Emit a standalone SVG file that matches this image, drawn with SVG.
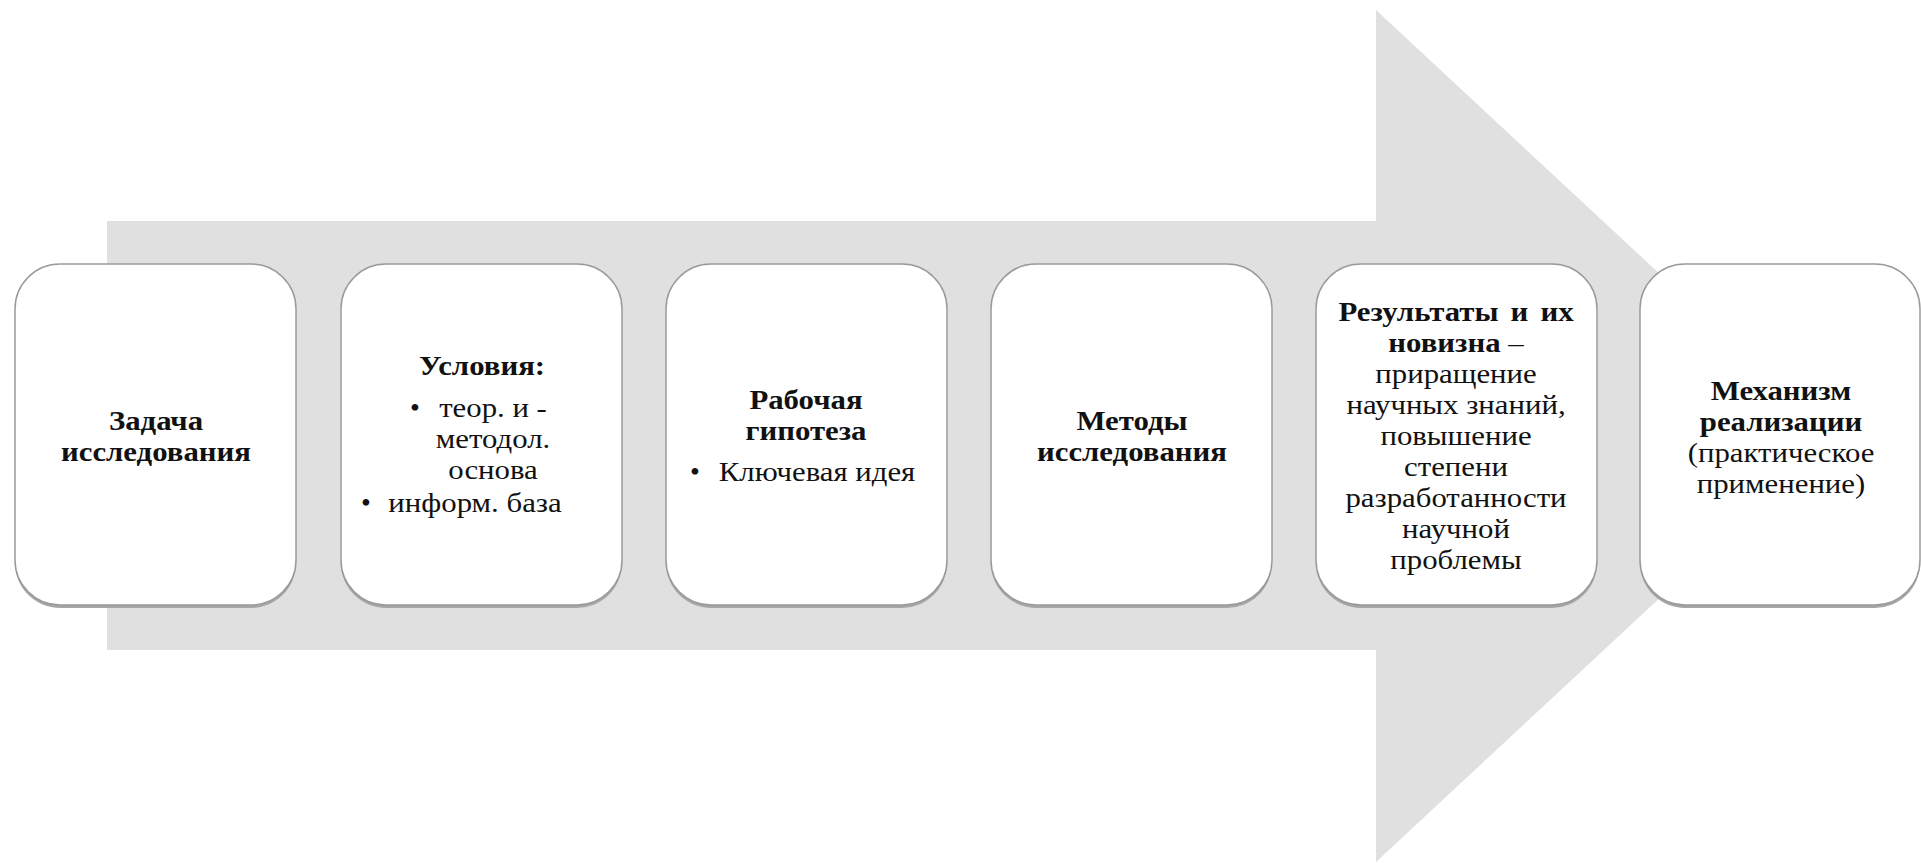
<svg xmlns="http://www.w3.org/2000/svg" width="1921" height="863" viewBox="0 0 1921 863">
<defs>
<style>
.box{fill:#ffffff;stroke:#9a9a9a;stroke-width:1.5}
.shadow{fill:#a6a6a6}
text{font-family:"Liberation Serif","Times New Roman",serif;font-size:28px;fill:#111111}
.c{text-anchor:middle}
.b{font-weight:bold}
</style>
</defs>
<rect width="1921" height="863" fill="#ffffff"/>
<g id="connectors">
<polygon points="107,221 1376,221 1376,10 1834,436 1376,862 1376,650 107,650" fill="#e0e0e0"/>
</g>
<g id="node1">
<rect class="shadow" x="15" y="267" width="281" height="341" rx="45"/>
<rect class="box" x="15" y="264" width="281" height="341" rx="45"/>
<text class="c b" transform="translate(156 0) scale(1.1 1)"><tspan x="0" y="430">Задача</tspan><tspan x="0" y="461">исследования</tspan></text>
</g>
<g id="node2">
<rect class="shadow" x="341" y="267" width="281" height="341" rx="45"/>
<rect class="box" x="341" y="264" width="281" height="341" rx="45"/>
<text class="c b" transform="translate(482 0) scale(1.1 1)"><tspan x="0" y="375">Условия:</tspan></text>
<text class="c" transform="translate(493 0) scale(1.1 1)"><tspan x="0" y="417">теор. и -</tspan><tspan x="0" y="448">методол.</tspan><tspan x="0" y="479">основа</tspan></text>
<text class="c" transform="translate(475 0) scale(1.1 1)"><tspan x="0" y="512">информ. база</tspan></text>
<text x="410" y="417">•</text>
<text x="361" y="512">•</text>
</g>
<g id="node3">
<rect class="shadow" x="666" y="267" width="281" height="341" rx="45"/>
<rect class="box" x="666" y="264" width="281" height="341" rx="45"/>
<text class="c b" transform="translate(806 0) scale(1.1 1)"><tspan x="0" y="409">Рабочая</tspan><tspan x="0" y="440">гипотеза</tspan></text>
<text class="c" transform="translate(817 0) scale(1.1 1)"><tspan x="0" y="481">Ключевая идея</tspan></text>
<text x="690" y="481">•</text>
</g>
<g id="node4">
<rect class="shadow" x="991" y="267" width="281" height="341" rx="45"/>
<rect class="box" x="991" y="264" width="281" height="341" rx="45"/>
<text class="c b" transform="translate(1132 0) scale(1.1 1)"><tspan x="0" y="430">Методы</tspan><tspan x="0" y="461">исследования</tspan></text>
</g>
<g id="node5">
<rect class="shadow" x="1316" y="267" width="281" height="341" rx="45"/>
<rect class="box" x="1316" y="264" width="281" height="341" rx="45"/>
<text class="c" transform="translate(1456 0) scale(1.1 1)"><tspan class="b" x="0" y="321" word-spacing="4">Результаты и их</tspan><tspan x="0" y="352"><tspan class="b">новизна</tspan> –</tspan><tspan x="0" y="383">приращение</tspan><tspan x="0" y="414">научных знаний,</tspan><tspan x="0" y="445">повышение</tspan><tspan x="0" y="476">степени</tspan><tspan x="0" y="507">разработанности</tspan><tspan x="0" y="538">научной</tspan><tspan x="0" y="569">проблемы</tspan></text>
</g>
<g id="node6">
<rect class="shadow" x="1640" y="267" width="280" height="341" rx="45"/>
<rect class="box" x="1640" y="264" width="280" height="341" rx="45"/>
<text class="c" transform="translate(1781 0) scale(1.1 1)"><tspan class="b" x="0" y="400">Механизм</tspan><tspan class="b" x="0" y="431">реализации</tspan><tspan x="0" y="462">(практическое</tspan><tspan x="0" y="493">применение)</tspan></text>
</g>
</svg>
